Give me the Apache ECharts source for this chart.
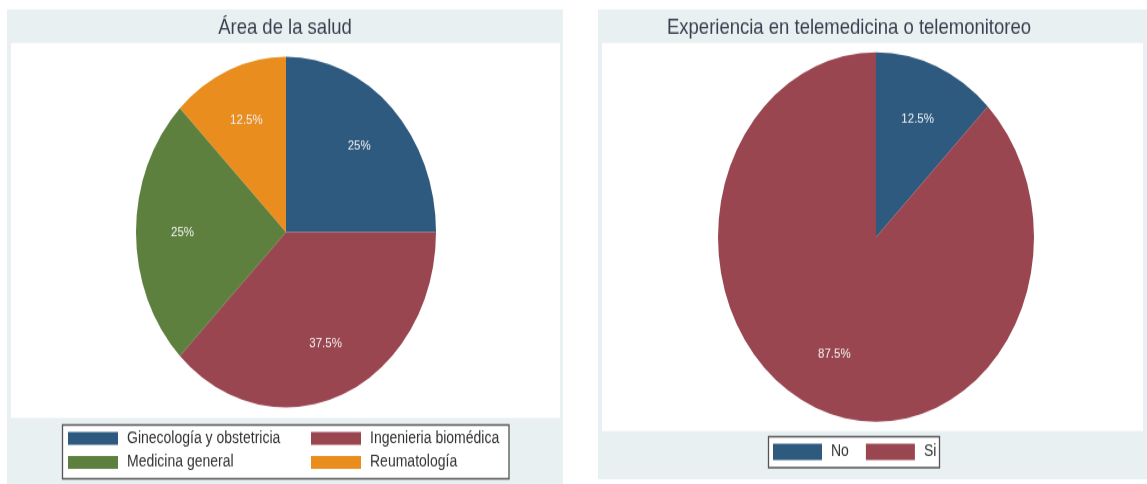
<!DOCTYPE html>
<html><head><meta charset="utf-8">
<script src="https://cdn.jsdelivr.net/npm/echarts@6/dist/echarts.min.js"></script>
<style>
html,body{margin:0;padding:0;background:#fff;overflow:hidden}
#wrap{width:1147px;height:484px;overflow:hidden}
#c{width:1147px;height:414px;transform:scaleY(1.16908);transform-origin:0 0}
</style>
</head><body><div id="wrap"><div id="c"></div></div>
<script>
// ---- data ----
const areaTitle = 'Área de la salud';
const areaCategories = ['Ginecología y obstetricia', 'Ingenieria biomédica', 'Medicina general', 'Reumatología'];
const areaValues = [25, 37.5, 25, 12.5];
const areaColors = ['#2f5a80', '#9a4650', '#5e803f', '#e88d1e'];

const expTitle = 'Experiencia en telemedicina o telemonitoreo';
const expCategories = ['No', 'Si'];
const expValues = [12.5, 87.5];
const expColors = ['#2f5a80', '#9a4650'];

// ---- build ----
const FONT = '"Liberation Sans", Arial, sans-serif';
const PANEL = '#e8f0f2';

function pieSeries(name, cats, vals, colors, center, radius) {
  const data = cats.map((c, i) => ({ name: c, value: vals[i], itemStyle: { color: colors[i] } }));
  const ghost = cats.map((c, i) => ({ name: c, value: vals[i], itemStyle: { color: 'rgba(0,0,0,0)' } }));
  return [
    {
      type: 'pie', name: name, center: center, radius: radius, startAngle: 90, clockwise: true,
      data: data, label: { show: false }, labelLine: { show: false },
      itemStyle: { borderWidth: 0 }, silent: true, emphasis: { disabled: true }, animation: false
    },
    {
      type: 'pie', name: name + ' labels', center: center, radius: [radius * 0.34, radius],
      startAngle: 90, clockwise: true, data: ghost, z: 3,
      label: {
        show: true, position: 'inside', formatter: p => p.value + '%',
        color: '#f2f2f2', fontSize: 11.5, fontFamily: FONT
      },
      labelLine: { show: false }, itemStyle: { borderWidth: 0 },
      silent: true, emphasis: { disabled: true }, animation: false
    }
  ];
}

const legendText = { fontSize: 14, lineHeight: 14, color: '#333', fontFamily: FONT, padding: [0, 0, 0, 4] };

const option = {
  animation: false,
  graphic: [
    { type: 'rect', z: -10, silent: true, shape: { x: 7, y: 8, width: 556, height: 406 }, style: { fill: PANEL } },
    { type: 'rect', z: -9, silent: true, shape: { x: 11, y: 36.8, width: 549, height: 320.8 }, style: { fill: '#fff' } },
    { type: 'rect', z: -10, silent: true, shape: { x: 598, y: 8, width: 549, height: 402 }, style: { fill: PANEL } },
    { type: 'rect', z: -9, silent: true, shape: { x: 602, y: 36.8, width: 541, height: 332 }, style: { fill: '#fff' } },
    { type: 'rect', z: -8, silent: true, shape: { x: 62.5, y: 363.5, width: 446.5, height: 46 }, style: { fill: '#fff', stroke: '#555', lineWidth: 1.3 } },
    { type: 'rect', z: -8, silent: true, shape: { x: 768.5, y: 373.5, width: 171, height: 26.5 }, style: { fill: '#fff', stroke: '#555', lineWidth: 1.3 } },
    { type: 'text', z: -7, silent: true, x: 285, y: 23.5, style: { text: areaTitle, font: '18.5px ' + FONT, fill: '#3b4150', textAlign: 'center', textVerticalAlign: 'middle' } },
    { type: 'text', z: -7, silent: true, x: 849, y: 23.5, style: { text: expTitle, font: '18.5px ' + FONT, fill: '#3b4150', textAlign: 'center', textVerticalAlign: 'middle' } }
  ],
  legend: [
    {
      data: [areaCategories[0], areaCategories[2]], orient: 'vertical', left: 68, top: 368,
      itemWidth: 50, itemHeight: 11, itemGap: 6.5, padding: 0, icon: 'rect',
      selectedMode: false, textStyle: legendText, itemStyle: { borderWidth: 0 }
    },
    {
      data: [areaCategories[1], areaCategories[3]], orient: 'vertical', left: 311, top: 368,
      itemWidth: 50, itemHeight: 11, itemGap: 6.5, padding: 0, icon: 'rect',
      selectedMode: false, textStyle: legendText, itemStyle: { borderWidth: 0 }
    },
    {
      data: expCategories, orient: 'horizontal', left: 773, top: 379.5,
      itemWidth: 49, itemHeight: 14, itemGap: 17, padding: 0, icon: 'rect',
      selectedMode: false, textStyle: legendText, itemStyle: { borderWidth: 0 }
    }
  ],
  series: [
    ...pieSeries(areaTitle, areaCategories, areaValues, areaColors, [286, 198.5], 150),
    ...pieSeries(expTitle, expCategories, expValues, expColors, [876, 202.7], 158)
  ]
};

const chart = echarts.init(document.getElementById('c'), null, { renderer: 'canvas' });
chart.setOption(option);
</script>
</body></html>
